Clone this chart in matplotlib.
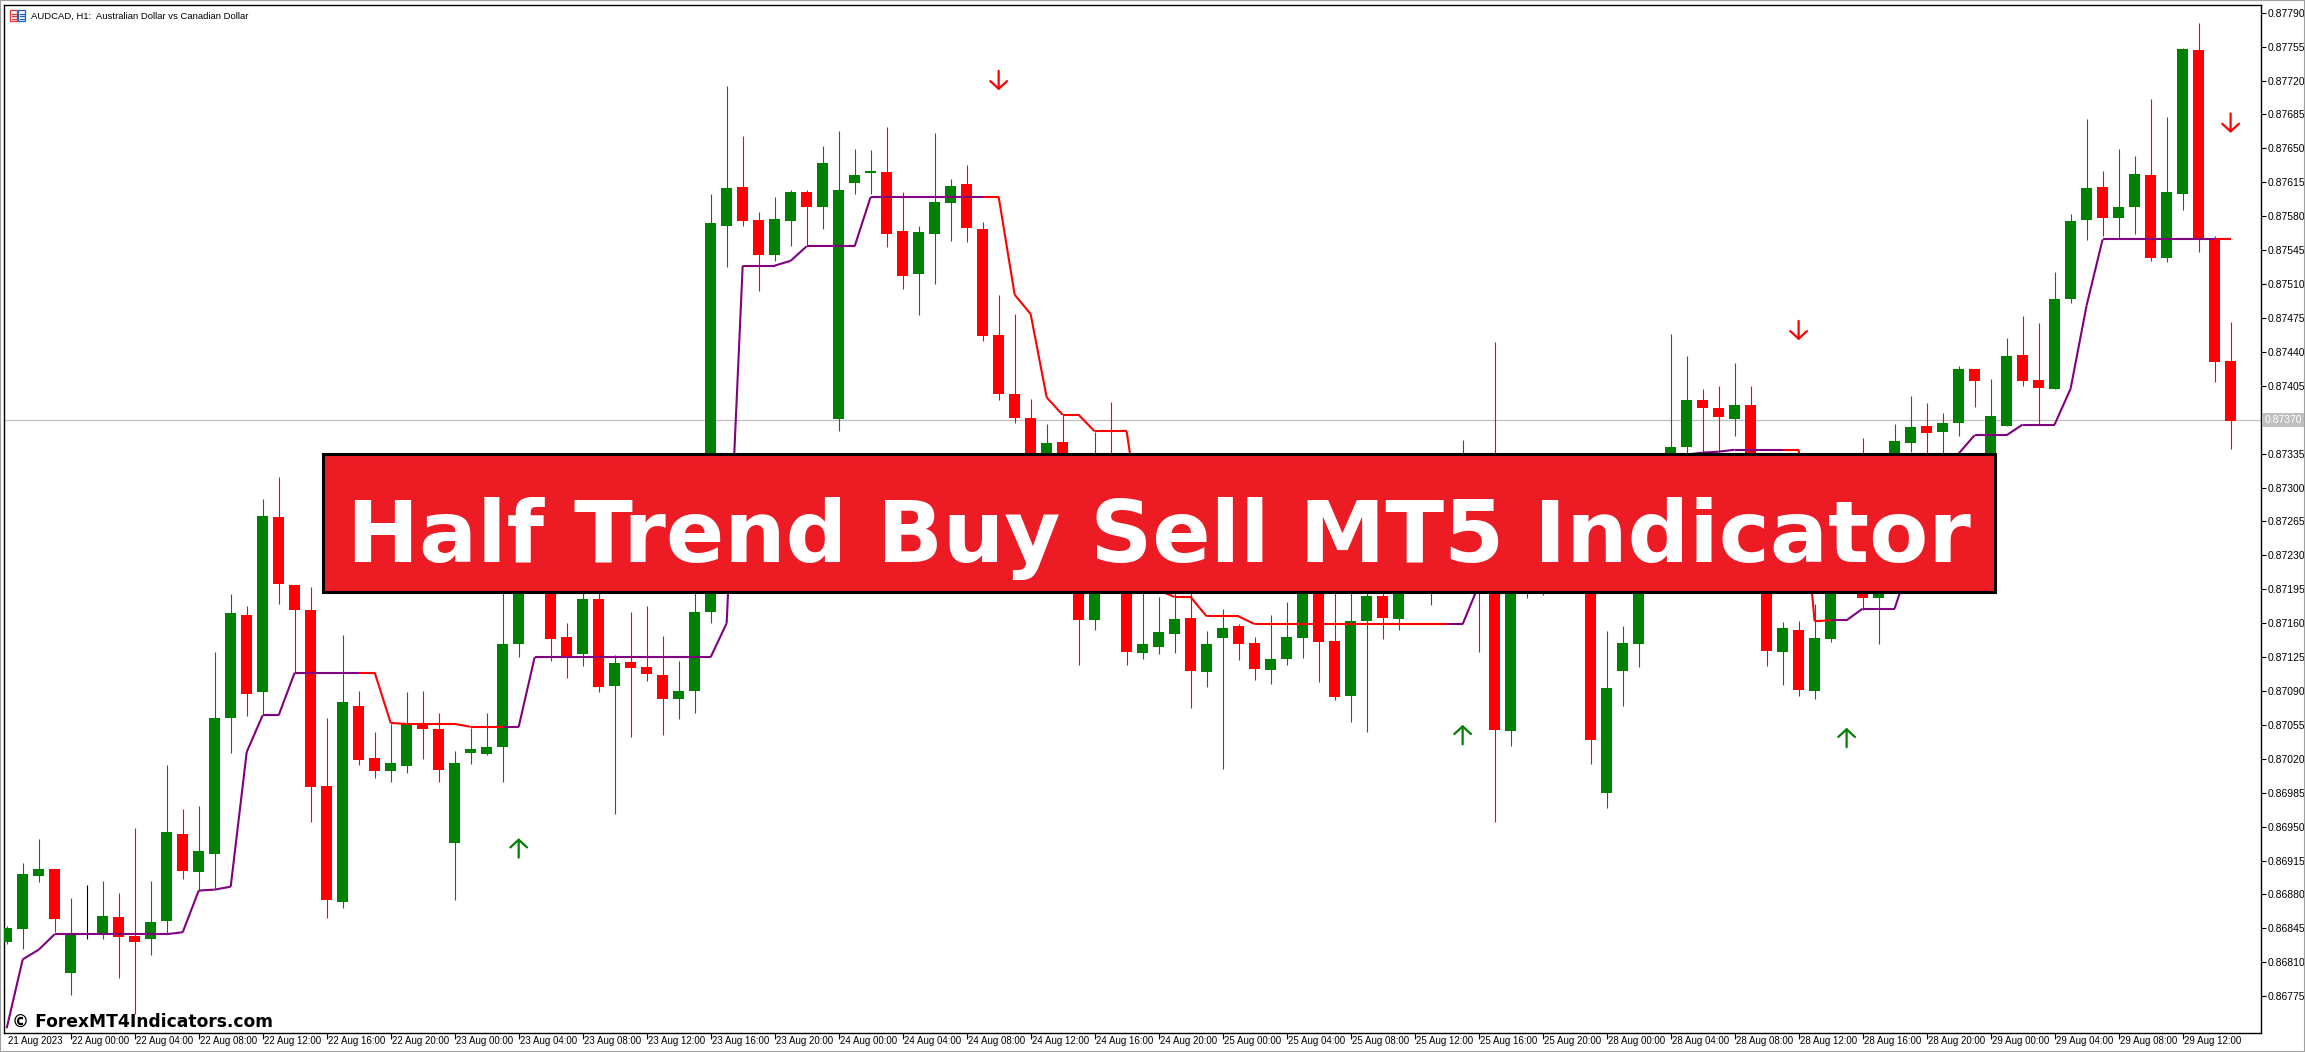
import matplotlib
matplotlib.use("Agg")
import numpy as np
import matplotlib.pyplot as plt
from matplotlib.collections import LineCollection
from matplotlib.patches import Rectangle
from matplotlib.transforms import blended_transform_factory, ScaledTranslation

# AUDCAD H1 candles, 21 Aug 2023 20:00 .. 29 Aug 2023
OPEN = [
    0.86831, 0.86844, 0.86899, 0.86906, 0.86799, 0.86839, 0.86839, 0.86857, 0.86837, 0.86834,
    0.86853, 0.86942, 0.86903, 0.86922, 0.87062, 0.87168, 0.87089, 0.87270, 0.87199, 0.87174,
    0.86992, 0.86872, 0.87075, 0.87021, 0.87007, 0.87013, 0.87057, 0.87051, 0.86933, 0.87026,
    0.87025, 0.87032, 0.87138, 0.87210, 0.87207, 0.87146, 0.87128, 0.87185, 0.87095, 0.87120,
    0.87115, 0.87107, 0.87082, 0.87090, 0.87172, 0.87570, 0.87610, 0.87576, 0.87540, 0.87575,
    0.87605, 0.87590, 0.87371, 0.87614, 0.87625, 0.87626, 0.87565, 0.87520, 0.87562, 0.87594,
    0.87613, 0.87567, 0.87457, 0.87396, 0.87372, 0.87298, 0.87347, 0.87246, 0.87163, 0.87267,
    0.87225, 0.87129, 0.87135, 0.87149, 0.87165, 0.87110, 0.87145, 0.87157, 0.87140, 0.87112,
    0.87123, 0.87145, 0.87199, 0.87142, 0.87085, 0.87162, 0.87188, 0.87164, 0.87199, 0.87205,
    0.87215, 0.87205, 0.87267, 0.87225, 0.87049, 0.87215, 0.87205, 0.87210, 0.87220, 0.87210,
    0.86985, 0.87111, 0.87138, 0.87205, 0.87246, 0.87342, 0.87390, 0.87382, 0.87371, 0.87385,
    0.87246, 0.87130, 0.87153, 0.87090, 0.87144, 0.87205, 0.87225, 0.87186, 0.87246, 0.87346,
    0.87364, 0.87357, 0.87367, 0.87422, 0.87308, 0.87364, 0.87437, 0.87411, 0.87402, 0.87495,
    0.87576, 0.87610, 0.87578, 0.87590, 0.87623, 0.87537, 0.87603, 0.87752, 0.87558, 0.87431,
]
HIGH = [
    0.86847, 0.86912, 0.86937, 0.86906, 0.86876, 0.86890, 0.86894, 0.86881, 0.86949, 0.86894,
    0.87014, 0.86968, 0.86971, 0.87130, 0.87190, 0.87178, 0.87288, 0.87311, 0.87199, 0.87197,
    0.87062, 0.87148, 0.87090, 0.87048, 0.87056, 0.87089, 0.87090, 0.87067, 0.87028, 0.87052,
    0.87067, 0.87205, 0.87225, 0.87225, 0.87220, 0.87160, 0.87199, 0.87199, 0.87127, 0.87171,
    0.87178, 0.87147, 0.87121, 0.87205, 0.87603, 0.87714, 0.87663, 0.87584, 0.87600, 0.87607,
    0.87607, 0.87652, 0.87668, 0.87649, 0.87648, 0.87672, 0.87605, 0.87570, 0.87666, 0.87618,
    0.87633, 0.87574, 0.87499, 0.87479, 0.87391, 0.87366, 0.87375, 0.87256, 0.87357, 0.87388,
    0.87241, 0.87199, 0.87187, 0.87194, 0.87194, 0.87152, 0.87175, 0.87159, 0.87146, 0.87168,
    0.87182, 0.87215, 0.87210, 0.87191, 0.87199, 0.87199, 0.87194, 0.87210, 0.87220, 0.87225,
    0.87225, 0.87349, 0.87287, 0.87450, 0.87225, 0.87225, 0.87220, 0.87230, 0.87236, 0.87225,
    0.87152, 0.87157, 0.87215, 0.87267, 0.87458, 0.87436, 0.87402, 0.87405, 0.87428, 0.87405,
    0.87256, 0.87161, 0.87162, 0.87180, 0.87215, 0.87336, 0.87351, 0.87246, 0.87366, 0.87394,
    0.87387, 0.87377, 0.87425, 0.87422, 0.87412, 0.87454, 0.87477, 0.87470, 0.87522, 0.87582,
    0.87680, 0.87627, 0.87649, 0.87642, 0.87701, 0.87682, 0.87754, 0.87779, 0.87560, 0.87471,
]
LOW = [
    0.86829, 0.86824, 0.86893, 0.86841, 0.86776, 0.86834, 0.86834, 0.86794, 0.86757, 0.86817,
    0.86839, 0.86896, 0.86884, 0.86887, 0.87026, 0.87064, 0.87065, 0.87180, 0.87109, 0.86955,
    0.86856, 0.86866, 0.87014, 0.87000, 0.86996, 0.87005, 0.87020, 0.86996, 0.86874, 0.87015,
    0.87024, 0.86996, 0.87125, 0.87196, 0.87121, 0.87103, 0.87116, 0.87089, 0.86963, 0.87042,
    0.87100, 0.87045, 0.87061, 0.87067, 0.87160, 0.87528, 0.87570, 0.87503, 0.87534, 0.87549,
    0.87549, 0.87567, 0.87358, 0.87603, 0.87603, 0.87548, 0.87505, 0.87478, 0.87510, 0.87554,
    0.87553, 0.87451, 0.87390, 0.87367, 0.87277, 0.87287, 0.87256, 0.87117, 0.87153, 0.87205,
    0.87117, 0.87123, 0.87128, 0.87129, 0.87072, 0.87094, 0.87009, 0.87122, 0.87101, 0.87097,
    0.87117, 0.87124, 0.87099, 0.87081, 0.87058, 0.87048, 0.87144, 0.87153, 0.87194, 0.87179,
    0.87194, 0.87194, 0.87130, 0.86955, 0.87033, 0.87186, 0.87189, 0.87196, 0.87196, 0.87015,
    0.86969, 0.87074, 0.87115, 0.87194, 0.87225, 0.87318, 0.87318, 0.87318, 0.87353, 0.87246,
    0.87116, 0.87096, 0.87085, 0.87082, 0.87141, 0.87194, 0.87174, 0.87139, 0.87236, 0.87337,
    0.87333, 0.87333, 0.87353, 0.87383, 0.87287, 0.87364, 0.87405, 0.87365, 0.87402, 0.87490,
    0.87555, 0.87560, 0.87556, 0.87562, 0.87534, 0.87533, 0.87586, 0.87543, 0.87409, 0.87340,
]
CLOSE = [
    0.86845, 0.86901, 0.86906, 0.86855, 0.86839, 0.86839, 0.86858, 0.86836, 0.86831, 0.86852,
    0.86944, 0.86904, 0.86925, 0.87062, 0.87170, 0.87087, 0.87271, 0.87200, 0.87174, 0.86991,
    0.86874, 0.87079, 0.87019, 0.87007, 0.87016, 0.87056, 0.87051, 0.87008, 0.87016, 0.87030,
    0.87032, 0.87139, 0.87210, 0.87205, 0.87144, 0.87126, 0.87185, 0.87094, 0.87119, 0.87114,
    0.87108, 0.87082, 0.87090, 0.87172, 0.87573, 0.87609, 0.87575, 0.87540, 0.87577, 0.87605,
    0.87590, 0.87635, 0.87607, 0.87623, 0.87627, 0.87562, 0.87518, 0.87564, 0.87595, 0.87611,
    0.87568, 0.87456, 0.87397, 0.87372, 0.87287, 0.87346, 0.87267, 0.87163, 0.87225, 0.87225,
    0.87130, 0.87138, 0.87151, 0.87164, 0.87111, 0.87139, 0.87155, 0.87138, 0.87113, 0.87123,
    0.87146, 0.87205, 0.87141, 0.87084, 0.87162, 0.87188, 0.87165, 0.87199, 0.87210, 0.87215,
    0.87205, 0.87267, 0.87225, 0.87050, 0.87215, 0.87205, 0.87210, 0.87220, 0.87210, 0.87039,
    0.87093, 0.87140, 0.87205, 0.87246, 0.87342, 0.87390, 0.87382, 0.87373, 0.87385, 0.87267,
    0.87131, 0.87155, 0.87091, 0.87145, 0.87205, 0.87225, 0.87186, 0.87225, 0.87348, 0.87362,
    0.87356, 0.87367, 0.87422, 0.87410, 0.87374, 0.87436, 0.87410, 0.87403, 0.87495, 0.87575,
    0.87609, 0.87578, 0.87590, 0.87624, 0.87537, 0.87605, 0.87753, 0.87558, 0.87430, 0.87369,
]

# half trend indicator value and direction (1 = up / purple, 0 = down / red)
HALF_TREND = [
    0.86742, 0.86813, 0.86823, 0.86839, 0.86839, 0.86839, 0.86839, 0.86839, 0.86839, 0.86839,
    0.86839, 0.86841, 0.86884, 0.86885, 0.86888, 0.87027, 0.87065, 0.87065, 0.87109, 0.87109,
    0.87109, 0.87109, 0.87109, 0.87109, 0.87057, 0.87056, 0.87056, 0.87056, 0.87056, 0.87053,
    0.87053, 0.87053, 0.87053, 0.87125, 0.87125, 0.87125, 0.87125, 0.87125, 0.87125, 0.87125,
    0.87125, 0.87125, 0.87125, 0.87125, 0.87125, 0.87160, 0.87529, 0.87529, 0.87529, 0.87534,
    0.87549, 0.87549, 0.87549, 0.87549, 0.87600, 0.87600, 0.87600, 0.87600, 0.87600, 0.87600,
    0.87600, 0.87600, 0.87600, 0.87499, 0.87479, 0.87393, 0.87375, 0.87375, 0.87358, 0.87358,
    0.87358, 0.87246, 0.87194, 0.87187, 0.87187, 0.87167, 0.87167, 0.87167, 0.87159, 0.87159,
    0.87159, 0.87159, 0.87159, 0.87159, 0.87159, 0.87159, 0.87159, 0.87159, 0.87159, 0.87159,
    0.87159, 0.87159, 0.87199, 0.87210, 0.87210, 0.87215, 0.87215, 0.87225, 0.87225, 0.87236,
    0.87246, 0.87267, 0.87287, 0.87308, 0.87329, 0.87334, 0.87336, 0.87337, 0.87339, 0.87339,
    0.87339, 0.87339, 0.87339, 0.87162, 0.87163, 0.87163, 0.87175, 0.87175, 0.87175, 0.87225,
    0.87277, 0.87318, 0.87335, 0.87354, 0.87354, 0.87354, 0.87365, 0.87365, 0.87365, 0.87402,
    0.87488, 0.87556, 0.87556, 0.87556, 0.87556, 0.87556, 0.87556, 0.87556, 0.87556, 0.87556,
]
TREND = [
    1, 1, 1, 1, 1, 1, 1, 1, 1, 1, 1, 1, 1, 1, 1, 1, 1, 1, 1, 1,
    1, 1, 1, 0, 0, 0, 0, 0, 0, 0, 0, 0, 1, 1, 1, 1, 1, 1, 1, 1,
    1, 1, 1, 1, 1, 1, 1, 1, 1, 1, 1, 1, 1, 1, 1, 1, 1, 1, 1, 1,
    1, 1, 0, 0, 0, 0, 0, 0, 0, 0, 0, 0, 0, 0, 0, 0, 0, 0, 0, 0,
    0, 0, 0, 0, 0, 0, 0, 0, 0, 0, 0, 1, 1, 1, 1, 1, 1, 1, 1, 1,
    1, 1, 1, 1, 1, 1, 1, 1, 1, 1, 1, 1, 0, 0, 0, 1, 1, 1, 1, 1,
    1, 1, 1, 1, 1, 1, 1, 1, 1, 1, 1, 1, 1, 1, 1, 1, 1, 1, 1, 0,
]

BUY_BARS = [32, 91, 115]
BUY_PRICE = [0.86928, 0.87045, 0.87042]
SELL_BARS = [62, 112, 139]
SELL_PRICE = [0.87720, 0.87462, 0.87676]

CURRENT_PRICE = 0.87370

YTICKS = [0.86775, 0.86810, 0.86845, 0.86880, 0.86915, 0.86950, 0.86985, 0.87020,
          0.87055, 0.87090, 0.87125, 0.87160, 0.87195, 0.87230, 0.87265, 0.87300,
          0.87335, 0.87370, 0.87405, 0.87440, 0.87475, 0.87510, 0.87545, 0.87580,
          0.87615, 0.87650, 0.87685, 0.87720, 0.87755, 0.87790]
XLABELS = ["21 Aug 2023",
           "22 Aug 00:00", "22 Aug 04:00", "22 Aug 08:00", "22 Aug 12:00", "22 Aug 16:00", "22 Aug 20:00",
           "23 Aug 00:00", "23 Aug 04:00", "23 Aug 08:00", "23 Aug 12:00", "23 Aug 16:00", "23 Aug 20:00",
           "24 Aug 00:00", "24 Aug 04:00", "24 Aug 08:00", "24 Aug 12:00", "24 Aug 16:00", "24 Aug 20:00",
           "25 Aug 00:00", "25 Aug 04:00", "25 Aug 08:00", "25 Aug 12:00", "25 Aug 16:00", "25 Aug 20:00",
           "28 Aug 00:00", "28 Aug 04:00", "28 Aug 08:00", "28 Aug 12:00", "28 Aug 16:00", "28 Aug 20:00",
           "29 Aug 00:00", "29 Aug 04:00", "29 Aug 08:00", "29 Aug 12:00"]
XLABEL_BARS = list(range(0, 140, 4))

GREEN = "#008000"
RED = "#FF0000"
PURPLE = "#800080"

plt.rcParams['font.family'] = ['Liberation Sans', 'DejaVu Sans']

W, H = 2305, 1052
fig = plt.figure(figsize=(W / 100, H / 100), dpi=100)


def fx(px):
    return px / W


def fy(py):
    return 1 - py / H


ax = fig.add_axes([fx(4), fy(1033), fx(2261 - 4), (1033 - 5) / H])
ax.set_xlim(-0.17, 140.9)
ax.set_ylim(0.86737, 0.87798)

x = np.arange(len(OPEN))
o, hi, lo, c = (np.array(v) for v in (OPEN, HIGH, LOW, CLOSE))
cols = np.where(c > o, GREEN, np.where(c < o, RED, "black"))

ax.axhline(CURRENT_PRICE, color="#C0C0C0", lw=0.9, zorder=1)
ax.vlines(x, lo, hi, colors=cols, linewidth=0.8, zorder=2)
ax.bar(x, np.maximum(np.abs(c - o), 0.000012), bottom=np.minimum(o, c),
       width=0.69, color=cols, linewidth=0, zorder=3)

# half trend line, each segment coloured by the bar it ends on
pts = np.column_stack([x, HALF_TREND])
segs = np.stack([pts[:-1], pts[1:]], axis=1)
seg_cols = [PURPLE if t else RED for t in TREND[1:]]
ax.add_collection(LineCollection(segs, colors=seg_cols, linewidths=1.5, zorder=4))

# buy / sell arrows
for b, p in zip(BUY_BARS, BUY_PRICE):
    ax.annotate("", xy=(b, p + 0.0001), xytext=(b, p - 0.0001),
                arrowprops=dict(arrowstyle="->,head_length=0.55,head_width=0.6",
                                color=GREEN, lw=1.6, shrinkA=0, shrinkB=0), zorder=5)
for b, p in zip(SELL_BARS, SELL_PRICE):
    ax.annotate("", xy=(b, p - 0.0001), xytext=(b, p + 0.0001),
                arrowprops=dict(arrowstyle="->,head_length=0.55,head_width=0.6",
                                color=RED, lw=1.6, shrinkA=0, shrinkB=0), zorder=5)

# axes look of the terminal
for s in ax.spines.values():
    s.set_color("black")
    s.set_linewidth(1.0)
ax.yaxis.tick_right()
ax.set_yticks(YTICKS)
ax.set_yticklabels(["" if abs(v - CURRENT_PRICE) < 1e-9 else f"{v:.5f}" for v in YTICKS])
ax.tick_params(axis="y", direction="out", length=3.5, width=0.8, pad=1, labelsize=7.5)
ax.set_xticks(XLABEL_BARS[1:])
ax.set_xticklabels([])
ax.tick_params(axis="x", direction="out", length=4, width=0.8)

xtrans = blended_transform_factory(ax.transData, ax.transAxes) + \
    ScaledTranslation(1.5 / 100, -3.5 / 100, fig.dpi_scale_trans)
for b, lab in zip(XLABEL_BARS, XLABELS):
    ax.text(b, 0, lab, transform=xtrans, ha="left", va="top", fontsize=7, clip_on=False)

ptrans = blended_transform_factory(ax.transAxes, ax.transData)
ax.text(1.0015, CURRENT_PRICE, "0.87370", transform=ptrans, ha="left", va="center",
        color="white", fontsize=7.5,
        bbox=dict(boxstyle="square,pad=0.2", fc="#C0C0C0", ec="none"))

# window title with its small icon
for x0, col in ((10, "#E03030"), (18, "#2060C0")):
    fig.add_artist(Rectangle((fx(x0), fy(21)), fx(7), 11 / H, transform=fig.transFigure,
                             fill=False, ec=col, lw=0.9))
    for yy in (13.5, 16, 18.5):
        fig.add_artist(plt.Line2D([fx(x0 + 1.5), fx(x0 + 5.5)], [fy(yy), fy(yy)],
                                  transform=fig.transFigure, color=col, lw=0.9))
fig.text(fx(31), fy(16), "AUDCAD, H1:  Australian Dollar vs Canadian Dollar",
         fontsize=6.8, ha="left", va="center")

# banner
fig.add_artist(Rectangle((fx(323), fy(592)), fx(1995 - 323), (592 - 454) / H,
                         transform=fig.transFigure, fc="#ED1C24", ec="black", lw=2.2, zorder=10))
fig.text(fx(1159), fy(562), "Half Trend Buy Sell MT5 Indicator", ha="center", va="baseline",
         color="white", fontsize=62, fontweight="bold", family="DejaVu Sans", zorder=11)

fig.text(fx(12), fy(1022), "\u00a9 ForexMT4Indicators.com", ha="left", va="center",
         fontsize=12.3, fontweight="bold", family="DejaVu Sans", zorder=11)

fig.add_artist(Rectangle((0, 0), 1, 1, transform=fig.transFigure, fill=False,
                         ec="#A0A0A0", lw=1.5))

fig.savefig("out.png", dpi=100)
